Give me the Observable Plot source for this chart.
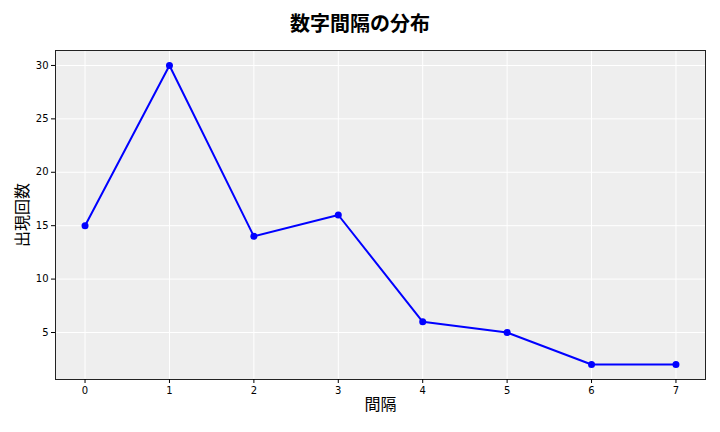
<!DOCTYPE html>
<html><head><meta charset="utf-8">
<script src="https://cdn.jsdelivr.net/npm/d3@7"></script>
<script src="https://cdn.jsdelivr.net/npm/@observablehq/plot@0.6"></script>
<style>
body{margin:0;background:#fff;}
#title{height:46px;line-height:46px;text-align:center;font-family:"Noto Sans CJK JP";font-weight:bold;font-size:20px;color:#000;}
</style></head>
<body>
<div id="title">数字間隔の分布</div>
<div id="chart"></div>
<script>
const intervals = [0,1,2,3,4,5,6,7];
const counts = [15,30,14,16,6,5,2,2];
const xTicks = [0,1,2,3,4,5,6,7];
const yTicks = [5,10,15,20,25,30];
const xLabel = "間隔";
const yLabel = "出現回数";

const data = intervals.map((d,i)=>({x:d,y:counts[i]}));

const chart = Plot.plot({
  width:720, height:386,
  marginTop:4, marginBottom:53, marginLeft:55, marginRight:15,
  style:{fontFamily:"DejaVu Sans", fontSize:"10px", color:"#000", background:"#fff"},
  x:{domain:[-0.35,7.35], ticks:xTicks, label:null},
  y:{domain:[0.6,31.4], ticks:yTicks, label:null},
  marks:[
    Plot.frame({fill:"#eeeeee", stroke:null}),
    Plot.gridX(xTicks,{stroke:"#fff", strokeOpacity:1, strokeWidth:1}),
    Plot.gridY(yTicks,{stroke:"#fff", strokeOpacity:1, strokeWidth:1}),
    Plot.frame({stroke:"#222", strokeWidth:1}),
    Plot.axisX(xTicks,{tickSize:4, tickPadding:3, fontSize:10}),
    Plot.axisY(yTicks,{tickSize:4, tickPadding:3, fontSize:10}),
    Plot.line(data,{x:"x", y:"y", stroke:"#0000ff", strokeWidth:2}),
    Plot.dot(data,{x:"x", y:"y", fill:"#0000ff", r:3.5}),
    Plot.text([xLabel],{frameAnchor:"bottom", dy:30, fontSize:16, fontFamily:"Noto Sans CJK JP", fill:"#000"}),
    Plot.text([yLabel],{frameAnchor:"left", textAnchor:"middle", dx:-33, rotate:-90, fontSize:16, fontFamily:"Noto Sans CJK JP", fill:"#000"})
  ]
});
document.getElementById("chart").appendChild(chart);
</script>
</body></html>
